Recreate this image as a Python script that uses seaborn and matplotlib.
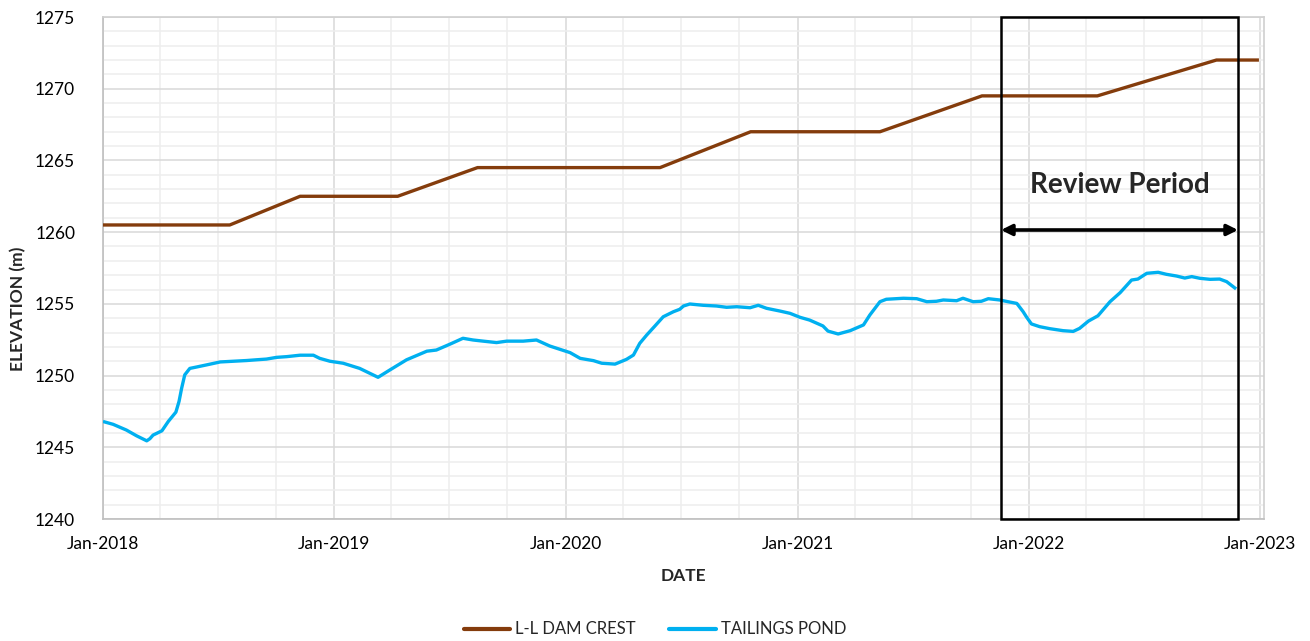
import matplotlib
matplotlib.use("Agg")
import matplotlib.pyplot as plt
import matplotlib.dates as mdates
from matplotlib.ticker import MultipleLocator
from matplotlib.patches import Rectangle
from matplotlib.lines import Line2D
import seaborn as sns
import pandas as pd

# ---------------- data ----------------
crest_dates = ["2018-01-01", "2018-07-20", "2018-11-08", "2019-04-11", "2019-08-15",
               "2020-05-29", "2020-10-19", "2021-05-11", "2021-10-19", "2022-04-19",
               "2022-10-24", "2022-12-30"]
crest_values = [1260.5, 1260.5, 1262.5, 1262.5, 1264.5, 1264.5, 1267.0, 1267.0,
                1269.5, 1269.5, 1272.0, 1272.0]

pond_dates = ["2018-01-01", "2018-01-17", "2018-02-07", "2018-02-23", "2018-03-11", "2018-03-16",
              "2018-03-21", "2018-04-04", "2018-04-14", "2018-04-26", "2018-05-01", "2018-05-05",
              "2018-05-10", "2018-05-18", "2018-05-29", "2018-06-14", "2018-07-05", "2018-07-26",
              "2018-08-16", "2018-08-31", "2018-09-16", "2018-10-02", "2018-10-18", "2018-11-08",
              "2018-11-29", "2018-12-09", "2018-12-25", "2019-01-15", "2019-02-10", "2019-03-11",
              "2019-03-30", "2019-04-25", "2019-05-27", "2019-06-11", "2019-07-02", "2019-07-23",
              "2019-08-08", "2019-08-24", "2019-09-14", "2019-09-30", "2019-10-26", "2019-11-16",
              "2019-12-07", "2019-12-23", "2020-01-08", "2020-01-24", "2020-02-14", "2020-02-27",
              "2020-03-19", "2020-04-06", "2020-04-17", "2020-04-27", "2020-05-08", "2020-05-21",
              "2020-06-03", "2020-06-19", "2020-06-29", "2020-07-05", "2020-07-15", "2020-08-05",
              "2020-08-26", "2020-09-11", "2020-09-27", "2020-10-18", "2020-10-31", "2020-11-13",
              "2020-12-04", "2020-12-20", "2021-01-05", "2021-01-20", "2021-02-10", "2021-02-18",
              "2021-03-06", "2021-03-25", "2021-04-15", "2021-04-25", "2021-05-11", "2021-05-21",
              "2021-06-17", "2021-07-08", "2021-07-24", "2021-08-08", "2021-08-19", "2021-09-09",
              "2021-09-19", "2021-10-05", "2021-10-18", "2021-10-29", "2021-11-16", "2021-11-29",
              "2021-12-13", "2021-12-23", "2021-12-28", "2022-01-05", "2022-01-18", "2022-02-03",
              "2022-02-24", "2022-03-12", "2022-03-22", "2022-04-05", "2022-04-20", "2022-05-09",
              "2022-05-25", "2022-06-12", "2022-06-22", "2022-07-06", "2022-07-24", "2022-08-06",
              "2022-08-22", "2022-09-04", "2022-09-15", "2022-09-28", "2022-10-14", "2022-10-29",
              "2022-11-09", "2022-11-24"]
pond_values = [1246.8, 1246.6, 1246.2, 1245.8, 1245.45, 1245.6,
               1245.85, 1246.15, 1246.8, 1247.45, 1248.2, 1249.1,
               1250.05, 1250.5, 1250.6, 1250.75, 1250.95, 1251.0,
               1251.05, 1251.1, 1251.15, 1251.27, 1251.32, 1251.42,
               1251.42, 1251.2, 1251.0, 1250.86, 1250.5, 1249.88,
               1250.4, 1251.1, 1251.7, 1251.78, 1252.18, 1252.6,
               1252.48, 1252.4, 1252.3, 1252.4, 1252.4, 1252.48,
               1252.06, 1251.83, 1251.6, 1251.2, 1251.04, 1250.86,
               1250.8, 1251.13, 1251.43, 1252.25, 1252.83, 1253.46,
               1254.1, 1254.45, 1254.62, 1254.85, 1254.99, 1254.9,
               1254.85, 1254.76, 1254.8, 1254.73, 1254.9, 1254.69,
               1254.5, 1254.34, 1254.06, 1253.87, 1253.46, 1253.1,
               1252.9, 1253.13, 1253.53, 1254.22, 1255.15, 1255.32,
               1255.39, 1255.36, 1255.15, 1255.18, 1255.27, 1255.22,
               1255.39, 1255.15, 1255.18, 1255.36, 1255.27, 1255.15,
               1255.03, 1254.45, 1254.1, 1253.6, 1253.41, 1253.27,
               1253.13, 1253.08, 1253.29, 1253.8, 1254.17, 1255.15,
               1255.78, 1256.66, 1256.73, 1257.13, 1257.2, 1257.06,
               1256.94, 1256.8, 1256.9, 1256.78, 1256.71, 1256.73,
               1256.55, 1256.04]

series_names = ["L-L DAM CREST", "TAILINGS POND"]
series_colors = ["#843C0C", "#00B0F0"]

review_start, review_end = "2021-11-18", "2022-11-27"
review_label = "Review Period"
arrow_level = 1260.15
label_level = 1263.3

x_min, x_max = "2018-01-01", "2023-01-07"
y_min, y_max = 1240, 1275

# ---------------- build frame ----------------
df = pd.concat([
    pd.DataFrame({"date": pd.to_datetime(crest_dates), "elev": crest_values, "series": series_names[0]}),
    pd.DataFrame({"date": pd.to_datetime(pond_dates), "elev": pond_values, "series": series_names[1]}),
], ignore_index=True)

sns.set_style("white")
plt.rcParams["font.family"] = ["Lato", "DejaVu Sans"]

fig = plt.figure(figsize=(13.1, 6.41), dpi=100)
ax = fig.add_axes([103 / 1310, 1 - 519 / 641, (1264 - 103) / 1310, (519 - 17) / 641])

sns.lineplot(data=df, x="date", y="elev", hue="series", hue_order=series_names,
             palette=dict(zip(series_names, series_colors)), linewidth=2.4,
             sort=False, estimator=None, ax=ax, legend=False, zorder=3)
for ln in ax.get_lines():
    ln.set_solid_capstyle("butt")
    ln.set_solid_joinstyle("round")

ax.set_xlim(pd.Timestamp(x_min), pd.Timestamp(x_max))
ax.set_ylim(y_min, y_max)

ax.xaxis.set_major_locator(mdates.YearLocator())
ax.xaxis.set_minor_locator(mdates.MonthLocator([4, 7, 10]))
ax.xaxis.set_major_formatter(mdates.DateFormatter("%b-%Y"))
ax.yaxis.set_major_locator(MultipleLocator(5))
ax.yaxis.set_minor_locator(MultipleLocator(1))

ax.grid(which="major", color="#D9D9D9", linewidth=1.1, zorder=0)
ax.grid(which="minor", color="#EEEEEE", linewidth=1.1, zorder=0)
ax.set_axisbelow(True)
ax.tick_params(which="both", length=0, labelsize=12.5, colors="black")
ax.tick_params(axis="x", pad=12)
ax.tick_params(axis="y", pad=20)

for s in ax.spines.values():
    s.set_color("#D0D0D0")
    s.set_linewidth(1.2)
ax.spines["bottom"].set_color("#BFBFBF")
ax.spines["left"].set_color("#BFBFBF")

ax.set_xlabel("DATE", fontsize=12.5, fontweight="bold")
ax.set_ylabel("ELEVATION (m)", fontsize=12.5, fontweight="bold")
ax.xaxis.set_label_coords(0.5, -(576 - 519) / 502, transform=ax.transAxes)
ax.yaxis.set_label_coords(-(103 - 18) / 1161, (519 - 309) / 502, transform=ax.transAxes)
ax.xaxis.label.set_va("center")
ax.yaxis.label.set_va("center")

# review period box
x0 = mdates.date2num(pd.Timestamp(review_start))
x1 = mdates.date2num(pd.Timestamp(review_end))
ax.add_patch(Rectangle((x0, y_min), x1 - x0, y_max - y_min, fill=False,
                       edgecolor="black", linewidth=1.8, zorder=5, clip_on=False))
ax.annotate("", xy=(x0, arrow_level), xytext=(x1, arrow_level),
            arrowprops=dict(arrowstyle="<|-|>", color="black", lw=2.6,
                            mutation_scale=16, shrinkA=0, shrinkB=0), zorder=6)
ax.text((x0 + x1) / 2, label_level, review_label, ha="center", va="center",
        fontsize=20, fontweight="bold", zorder=6)

# legend
handles = [Line2D([0], [0], color=c, lw=3) for c in series_colors]
fig.legend(handles, series_names, loc="center", bbox_to_anchor=(0.5, 0.018), ncol=2,
           frameon=False, fontsize=12, handlelength=2.8, columnspacing=2.0, handletextpad=0.3)

fig.savefig("out.png", dpi=100)
